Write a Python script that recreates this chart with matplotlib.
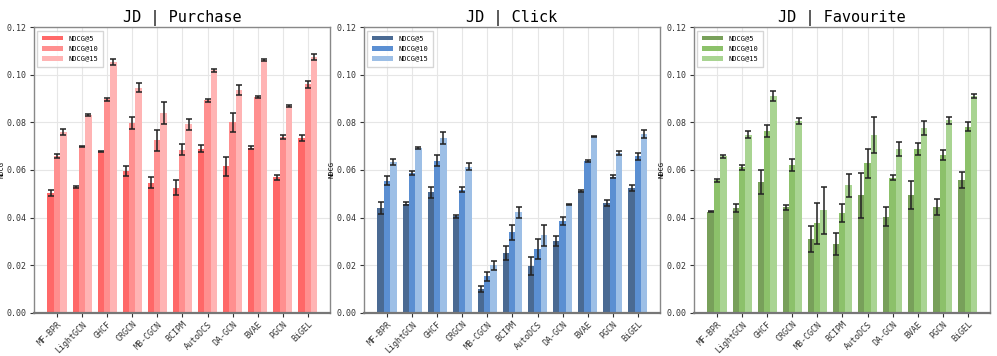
import numpy as np
import matplotlib
matplotlib.use('Agg')
import matplotlib.pyplot as plt

plt.rcParams['font.family'] = ['DejaVu Sans Mono', 'DejaVu Sans']

models = ['MF-BPR', 'LightGCN', 'GHCF', 'CRGCN', 'MB-CGCN', 'BCIPM',
          'AutoDCS', 'DA-GCN', 'BVAE', 'PGCN', 'BiGEL']
metrics = ['NDCG@5', 'NDCG@10', 'NDCG@15']

# Purchase
pur_5 = [0.0503, 0.0528, 0.0677, 0.0595, 0.0547, 0.0525, 0.0690, 0.0615, 0.0694, 0.0570, 0.0735]
pur_10 = [0.0658, 0.0697, 0.0897, 0.0798, 0.0724, 0.0686, 0.0892, 0.0801, 0.0905, 0.0737, 0.0960]
pur_15 = [0.0758, 0.0830, 0.1055, 0.0946, 0.0840, 0.0791, 0.1019, 0.0935, 0.1063, 0.0869, 0.1075]
pur_5_err = [0.0012, 0.0004, 0.0003, 0.0022, 0.0022, 0.0032, 0.0015, 0.0040, 0.0005, 0.0010, 0.0013]
pur_10_err = [0.0008, 0.0002, 0.0007, 0.0025, 0.0045, 0.0025, 0.0007, 0.0040, 0.0004, 0.0008, 0.0015]
pur_15_err = [0.0013, 0.0003, 0.0013, 0.0018, 0.0045, 0.0025, 0.0006, 0.0020, 0.0004, 0.0003, 0.0013]

# Click
clk_5 = [0.0440, 0.0459, 0.0506, 0.0406, 0.0101, 0.0252, 0.0197, 0.0301, 0.0511, 0.0462, 0.0524]
clk_10 = [0.0555, 0.0588, 0.0638, 0.0518, 0.0153, 0.0338, 0.0267, 0.0384, 0.0638, 0.0572, 0.0657]
clk_15 = [0.0635, 0.0693, 0.0734, 0.0614, 0.0200, 0.0422, 0.0326, 0.0454, 0.0741, 0.0671, 0.0750]
clk_5_err = [0.0025, 0.0008, 0.0023, 0.0006, 0.0013, 0.0030, 0.0037, 0.0020, 0.0005, 0.0012, 0.0014]
clk_10_err = [0.0018, 0.0008, 0.0023, 0.0012, 0.0018, 0.0030, 0.0042, 0.0017, 0.0006, 0.0007, 0.0013]
clk_15_err = [0.0012, 0.0004, 0.0026, 0.0014, 0.0020, 0.0024, 0.0043, 0.0003, 0.0003, 0.0007, 0.0017]

# Favourite
fav_5 = [0.0425, 0.0441, 0.0550, 0.0443, 0.0310, 0.0291, 0.0493, 0.0404, 0.0494, 0.0445, 0.0558]
fav_10 = [0.0556, 0.0611, 0.0762, 0.0621, 0.0376, 0.0419, 0.0628, 0.0568, 0.0690, 0.0664, 0.0782]
fav_15 = [0.0658, 0.0748, 0.0910, 0.0806, 0.0431, 0.0535, 0.0748, 0.0688, 0.0776, 0.0808, 0.0910]
fav_5_err = [0.0002, 0.0017, 0.0050, 0.0012, 0.0055, 0.0046, 0.0095, 0.0040, 0.0058, 0.0032, 0.0035]
fav_10_err = [0.0008, 0.0010, 0.0025, 0.0024, 0.0085, 0.0038, 0.0060, 0.0010, 0.0025, 0.0020, 0.0018]
fav_15_err = [0.0007, 0.0015, 0.0020, 0.0013, 0.0098, 0.0050, 0.0075, 0.0028, 0.0030, 0.0013, 0.0008]

titles = ['JD | Purchase', 'JD | Click', 'JD | Favourite']
values = [[pur_5, pur_10, pur_15], [clk_5, clk_10, clk_15], [fav_5, fav_10, fav_15]]
errors = [[pur_5_err, pur_10_err, pur_15_err], [clk_5_err, clk_10_err, clk_15_err],
          [fav_5_err, fav_10_err, fav_15_err]]
colors = [['#ff6868', '#ff8f8f', '#ffb4b4'],
          ['#4a6a93', '#5b8fd2', '#9dbfe6'],
          ['#78a05a', '#8cc16a', '#a9d492']]

fig = plt.figure(figsize=(9.97, 3.56), dpi=100)
x = np.arange(len(models))
lefts = [0.034, 0.365, 0.696]

for p in range(3):
    ax = fig.add_axes([lefts[p], 0.121, 0.297, 0.803])
    for k in range(3):
        ax.bar(x + (k - 1) * 0.25, values[p][k], width=0.26, color=colors[p][k],
               label=metrics[k], zorder=2)
        ax.errorbar(x + (k - 1) * 0.25, values[p][k], yerr=errors[p][k], fmt='none',
                    ecolor='#222222', elinewidth=1.1, capsize=2.2, capthick=1.1, zorder=3)
    ax.set_xlim(-0.92, 10.88)
    ax.set_ylim(0, 0.12)
    ax.set_yticks(np.arange(0, 0.121, 0.02))
    ax.set_yticklabels(['%.2f' % v for v in np.arange(0, 0.121, 0.02)], fontsize=6)
    ax.set_xticks(x)
    ax.set_xticklabels(models, rotation=45, ha='right', rotation_mode='anchor', fontsize=6)
    ax.tick_params(length=3, width=0.8, colors='#333333', pad=2)
    ax.set_ylabel('NDCG', fontsize=5, labelpad=2)
    ax.set_title(titles[p], fontsize=11, pad=4)
    ax.grid(True, color='#e6e6e6', linewidth=0.8, zorder=0)
    ax.set_axisbelow(True)
    for s in ['left', 'right', 'top']:
        ax.spines[s].set_color('#888888')
        ax.spines[s].set_linewidth(1.0)
    ax.spines['bottom'].set_color('#777777')
    ax.spines['bottom'].set_linewidth(1.6)
    ax.legend(loc='upper left', fontsize=5, frameon=True, edgecolor='#cccccc',
              fancybox=False, handlelength=3.0, borderpad=0.7, labelspacing=0.6)

fig.savefig('out.png', dpi=100)
